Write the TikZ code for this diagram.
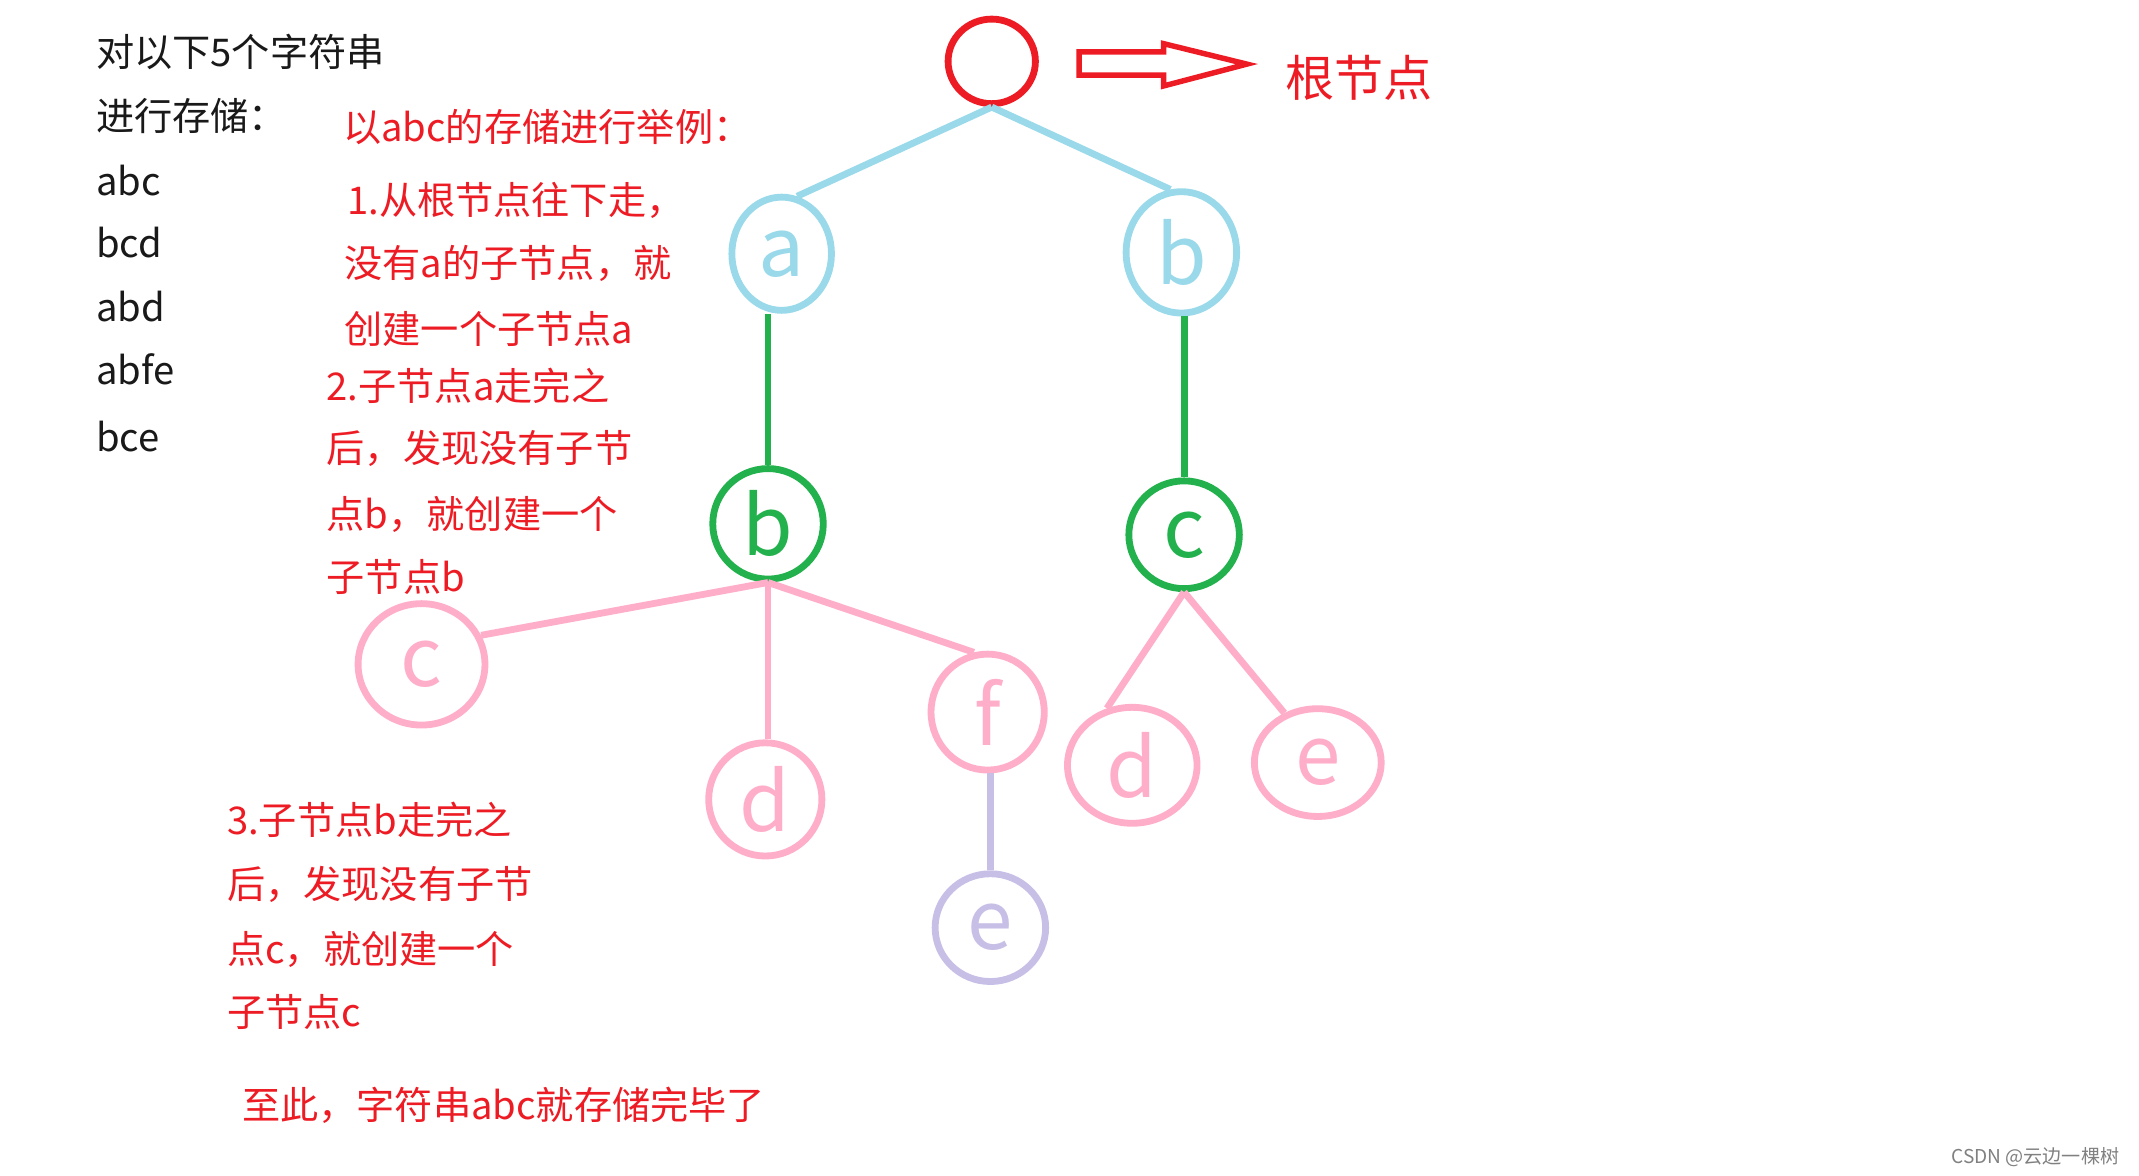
\documentclass[tikz,border=0pt]{standalone}
\usepackage{fontspec}
\setmainfont{Noto Sans CJK SC}
\usetikzlibrary{shapes.geometric}
\definecolor{paintred}{HTML}{ED1C24}
\definecolor{skyblue}{HTML}{99D9EA}
\definecolor{grassgreen}{HTML}{22B14C}
\definecolor{rosepink}{HTML}{FFAEC9}
\definecolor{lilac}{HTML}{C8BFE7}

\begin{document}
\begin{tikzpicture}[x=1pt, y=-1pt, line width=5pt,
  trie/.style={ellipse, draw, inner sep=0pt, font=\fontsize{60}{60}\selectfont},
  note/.style={anchor=west, inner sep=0pt, text=paintred, font=\fontsize{28}{34}\selectfont},
  list/.style={anchor=west, inner sep=0pt, text=black!90, font=\fontsize{28}{34}\selectfont}]
  \useasboundingbox (0,0) rectangle (1568,862);

  \node[trie, paintred, minimum width=64pt, minimum height=62pt] (root) at (727,45) {};
  \node[trie, skyblue, minimum width=73pt, minimum height=83pt] (na) at (573,186) {a};
  \node[trie, skyblue, minimum width=81pt, minimum height=89pt] (nb) at (866,185) {b};
  \node[trie, grassgreen, minimum width=81pt, minimum height=81pt] (nab) at (563,384) {b};
  \node[trie, grassgreen, minimum width=81pt, minimum height=79pt] (nbc) at (868,392) {c};
  \node[trie, rosepink, minimum width=93pt, minimum height=89pt] (nabc) at (309,487) {c};
  \node[trie, rosepink, minimum width=83pt, minimum height=83pt] (nabd) at (561,586) {d};
  \node[trie, rosepink, minimum width=83pt, minimum height=85pt] (nabf) at (724,522) {f};
  \node[trie, lilac, minimum width=81pt, minimum height=79pt] (nabfe) at (726,680) {e};
  \node[trie, rosepink, minimum width=95pt, minimum height=85pt] (nbcd) at (830,561) {d};
  \node[trie, rosepink, minimum width=93pt, minimum height=79pt] (nbce) at (966,559) {e};

  \draw[skyblue] (root.south) -- (na.75);
  \draw[skyblue] (root.south) -- (nb.100);
  \draw[grassgreen] (nab.north |- na.south) -- (nab.north);
  \draw[grassgreen] (nbc.north |- nb.south) -- (nbc.north);
  \draw[rosepink] (nab.south) -- (nabc.26);
  \draw[rosepink] (nab.south) -- (nab.south |- nabd.north);
  \draw[rosepink] (nab.south) -- (nabf.103);
  \draw[lilac] (nabfe.north |- nabf.south) -- (nabfe.north);
  \draw[rosepink] (nbc.south) -- (nbcd.114);
  \draw[rosepink] (nbc.south) -- (nbce.124);

  \draw[paintred, line width=4pt] (791,38) -- (853,38) -- (853,32) -- (914,47) -- (853,63) -- (853,55) -- (791,55) -- cycle;
  \node[anchor=west, inner sep=0pt, text=paintred, font=\fontsize{36}{40}\selectfont] (rootlabel) at (940,57) {根节点};

  \node[list] (head1) at (68,38) {对以下5个字符串};
  \node[list] (head2) at (68,85) {进行存储：};
  \node[list] (w1) at (68,132) {abc};
  \node[list] (w2) at (68,178) {bcd};
  \node[list] (w3) at (68,225) {abd};
  \node[list] (w4) at (68,271) {abfe};
  \node[list] (w5) at (68,320) {bce};

  \node[note] (ex) at (249,93) {以abc的存储进行举例：};
  \node[note] (st1a) at (252,147) {1.从根节点往下走，};
  \node[note] (st1b) at (250,193) {没有a的子节点，就};
  \node[note] (st1c) at (250,241) {创建一个子节点a};
  \node[note] (st2a) at (237,283) {2.子节点a走完之};
  \node[note] (st2b) at (237,329) {后，发现没有子节};
  \node[note] (st2c) at (237,377) {点b，就创建一个};
  \node[note] (st2d) at (237,423) {子节点b};
  \node[note] (st3a) at (164,601) {3.子节点b走完之};
  \node[note] (st3b) at (164,648) {后，发现没有子节};
  \node[note] (st3c) at (164,696) {点c，就创建一个};
  \node[note] (st3d) at (164,742) {子节点c};
  \node[note] (done) at (175,810) {至此，字符串abc就存储完毕了};

  \node[anchor=east, inner sep=0pt, text=black!50, font=\fontsize{14}{16}\selectfont] (mark) at (1556,848) {CSDN @云边一棵树};
\end{tikzpicture}
\end{document}
